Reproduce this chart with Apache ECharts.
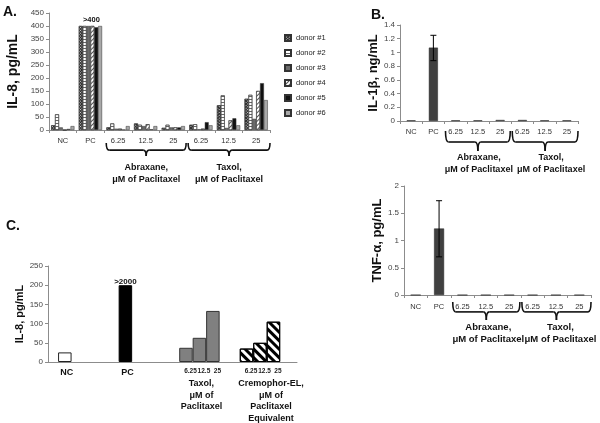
<!DOCTYPE html>
<html><head><meta charset="utf-8">
<script src="https://cdn.jsdelivr.net/npm/echarts@6/dist/echarts.min.js"></script>
<style>html,body{margin:0;padding:0;background:#fff}#c{width:600px;height:423px}</style>
</head><body><div id="c"></div><script>
// ---------- Panel A: IL-8 per donor ----------
const catsA = ['NC','PC','6.25','12.5','25','6.25','12.5','25'];
const donorNames = ['donor #1','donor #2','donor #3','donor #4','donor #5','donor #6'];
const donor1 = [18, 400, 10, 25, 8, 20, 95, 120];
const donor2 = [60, 400, 25, 20, 20, 22, 133, 135];
const donor3 = [10, 400, 5, 15, 10, 3, 8, 43];
const donor4 = [0, 400, 5, 22, 10, 5, 37, 150];
const donor5 = [4, 395, 2, 3, 10, 30, 45, 180];
const donor6 = [15, 400, 15, 15, 15, 18, 18, 115];
const groupsA = ['Abraxane,\nμM of Paclitaxel', 'Taxol,\nμM of Paclitaxel'];

// ---------- Panel B: IL-1β and TNF-α ----------
const catsB = ['NC','PC','6.25','12.5','25','6.25','12.5','25'];
const il1b     = [0.01, 1.07, 0.01, 0.01, 0.015, 0.015, 0.01, 0.01];
const il1bLow  = [null, 0.88, null, null, null, null, null, null];
const il1bHigh = [null, 1.25, null, null, null, null, null, null];
const tnfa     = [0, 1.22, 0, 0, 0, 0, 0, 0];
const tnfaLow  = [null, 0.70, null, null, null, null, null, null];
const tnfaHigh = [null, 1.73, null, null, null, null, null, null];

// ---------- Panel C: IL-8 ----------
const catsC = ['NC','PC','6.25','12.5','25','6.25','12.5','25'];
const il8C  = [25, 200, 37, 63, 133, 35, 50, 105];
const kindC = ['nc','pc','taxol','taxol','taxol','crem','crem','crem'];
const groupsC = ['Taxol,\nμM of\nPaclitaxel', 'Cremophor-EL,\nμM of\nPaclitaxel\nEquivalent'];
// layout of panel C on a fine slot grid (spacing only)
const slotC = [2, 11, 20, 22, 24, 29, 31, 33];
const nSlotC = 37;

const FONT = 'Liberation Sans, Arial, sans-serif';
const axisGray = '#8c8c8c';

const decals = [
  {symbol:'rect', symbolSize:1, dashArrayX:[1,1], dashArrayY:[1,1], color:'rgba(255,255,255,0.85)', rotation:Math.PI/4},
  {symbol:'rect', symbolSize:1, dashArrayX:[1,0], dashArrayY:[1,1.5], color:'#666'},
  null,
  {symbol:'rect', symbolSize:1, dashArrayX:[1,0], dashArrayY:[1,1.2], color:'#555', rotation:-Math.PI/4},
  null,
  null
];
const donorColors = ['#2a2a2a','#ffffff','#6b6b6b','#ffffff','#111111','#a8a8a8'];
const donorData = [donor1, donor2, donor3, donor4, donor5, donor6];

function errRender(params, api){
  const x = api.value(0);
  const lo = api.coord([x, api.value(1)]);
  const hi = api.coord([x, api.value(2)]);
  const w = 3;
  const st = {stroke:'#000', lineWidth:1};
  return {type:'group', children:[
    {type:'line', shape:{x1:lo[0],y1:lo[1],x2:hi[0],y2:hi[1]}, style:st},
    {type:'line', shape:{x1:lo[0]-w,y1:lo[1],x2:lo[0]+w,y2:lo[1]}, style:st},
    {type:'line', shape:{x1:hi[0]-w,y1:hi[1],x2:hi[0]+w,y2:hi[1]}, style:st}
  ]};
}
function errData(lo, hi){
  const out = [];
  lo.forEach((v,i)=>{ if(v!=null) out.push([i, v, hi[i]]); });
  return out;
}

function yAxisCommon(grid, min, max, interval, name, nameGap, nameSize, fmt){
  return {
    type:'value', gridIndex:grid, min, max, interval,
    name, nameLocation:'middle', nameGap,
    nameTextStyle:{fontFamily:FONT, fontWeight:'bold', fontSize:nameSize, color:'#111'},
    axisLine:{show:true, lineStyle:{color:axisGray}},
    axisTick:{show:true, length:3, lineStyle:{color:axisGray}},
    splitLine:{show:false},
    axisLabel:{fontFamily:FONT, fontSize:8, color:'#444', margin:5, formatter: fmt}
  };
}
function xAxisCat(grid, data, margin){
  return {
    type:'category', gridIndex:grid, data,
    axisLine:{lineStyle:{color:axisGray}},
    axisTick:{show:true, length:3, lineStyle:{color:axisGray}},
    axisLabel:{fontFamily:FONT, fontSize:7.5, color:'#333', margin, interval:0}
  };
}

// panel C full slot categories / data
const catsCFull = Array(nSlotC).fill('');
const il8CFull = Array(nSlotC).fill(null);
const styleC = {
  nc:{color:'#ffffff', borderColor:'#222', borderWidth:1},
  pc:{color:'#000000', borderColor:'#000', borderWidth:1},
  taxol:{color:'#808080', borderColor:'#333', borderWidth:1},
  crem:{color:'#ffffff', borderColor:'#000', borderWidth:1,
        decal:{symbol:'rect', symbolSize:1, dashArrayX:[1,0], dashArrayY:[2.5,2.5], color:'#000', rotation:Math.PI/4}}
};
slotC.forEach((s,i)=>{
  catsCFull[s] = catsC[i];
  il8CFull[s] = {value: il8C[i], itemStyle: styleC[kindC[i]]};
});

const chart = echarts.init(document.getElementById('c'), null, {renderer:'canvas'});

const series = [];
donorData.forEach((d,i)=>{
  const it = {color: donorColors[i], borderColor:'#333', borderWidth:0.5};
  if (decals[i]) it.decal = decals[i];
  series.push({
    name: donorNames[i], type:'bar', xAxisIndex:0, yAxisIndex:0,
    data: d, barGap:'0%', barCategoryGap:'16%', itemStyle: it
  });
});
series.push({type:'bar', xAxisIndex:1, yAxisIndex:1, data: il1b, barWidth:9,
  itemStyle:{color:'#404040', borderColor:'#222', borderWidth:0.5}});
series.push({type:'custom', xAxisIndex:1, yAxisIndex:1, renderItem: errRender,
  data: errData(il1bLow, il1bHigh), encode:{x:0, y:[1,2]}, z:5});
series.push({type:'bar', xAxisIndex:2, yAxisIndex:2, data: tnfa, barWidth:10,
  itemStyle:{color:'#404040', borderColor:'#222', borderWidth:0.5}});
series.push({type:'custom', xAxisIndex:2, yAxisIndex:2, renderItem: errRender,
  data: errData(tnfaLow, tnfaHigh), encode:{x:0, y:[1,2]}, z:5});
series.push({type:'bar', xAxisIndex:3, yAxisIndex:3, data: il8CFull, barWidth:13.5});

const option = {
  animation:false,
  backgroundColor:'#fff',
  textStyle:{fontFamily:FONT},
  grid:[
    {left:49, right:330, top:13, bottom:293},
    {left:400, right:22, top:25, bottom:302},
    {left:404, right:9, top:186, bottom:128},
    {left:48, right:303, top:266, bottom:61}
  ],
  legend:{
    data: donorNames, orient:'vertical', left:284, top:34, padding:0,
    itemWidth:6, itemHeight:6, itemGap:7, icon:'rect',
    textStyle:{fontFamily:FONT, fontSize:7.5, color:'#222'}
  },
  xAxis:[
    xAxisCat(0, catsA, 7),
    xAxisCat(1, catsB, 7),
    xAxisCat(2, catsB, 8),
    {type:'category', gridIndex:3, data: catsCFull,
     axisLine:{lineStyle:{color:axisGray}}, axisTick:{show:false},
     axisLabel:{interval:0, margin:6, fontFamily:FONT, color:'#111',
       formatter:(v)=> v===''? '' : ((v==='NC'||v==='PC') ? '{big|'+v+'}' : '{small|'+v+'}'),
       rich:{big:{fontSize:9, fontWeight:'bold', fontFamily:FONT, color:'#111', padding:[0,0,0,4]},
             small:{fontSize:6.5, fontWeight:'bold', fontFamily:FONT, color:'#222', padding:[0,0,0,9]}}}}
  ],
  yAxis:[
    yAxisCommon(0, 0, 450, 50, 'IL-8, pg/mL', 29, 14),
    yAxisCommon(1, 0, 1.4, 0.2, 'IL-1β, ng/mL', 18.5, 13, v=>String(Math.round(v*10)/10)),
    yAxisCommon(2, 0, 2, 0.5, 'TNF-α, pg/mL', 19.5, 13),
    yAxisCommon(3, 0, 250, 50, 'IL-8, pg/mL', 22.5, 11)
  ],
  series
};
chart.setOption(option);

// ---------- decorations computed from axes ----------
function band(xi, idx){
  const a = chart.convertToPixel({xAxisIndex:xi}, idx);
  const b = chart.convertToPixel({xAxisIndex:xi}, idx+1);
  return [a, b-a];
}
function brace(x1, x2, y0, h){
  const cx=(x1+x2)/2, y1=y0+h*0.55, y2=y0+h;
  const st = {stroke:'#111', lineWidth:1.6, fill:null};
  const bc = (a,b,c,d,e,f)=>({type:'bezierCurve', silent:true, shape:{x1:a,y1:b,cpx1:c,cpy1:d,x2:e,y2:f}, style:st});
  const ln = (a,b,c,d)=>({type:'line', silent:true, shape:{x1:a,y1:b,x2:c,y2:d}, style:st});
  return {type:'group', silent:true, children:[
    bc(x1,y0, x1,y1, x1+3,y1),
    ln(x1+3,y1, cx-3,y1),
    bc(cx-3,y1, cx,y1, cx,y2),
    bc(cx,y2, cx,y1, cx+3,y1),
    ln(cx+3,y1, x2-3,y1),
    bc(x2-3,y1, x2,y1, x2,y0)
  ]};
}
function label(text, x, y, size, align){
  return {type:'text', silent:true, style:{text, x, y, fill:'#111',
    font:`bold ${size}px ${FONT}`, textAlign:align||'center', textVerticalAlign:'top', lineHeight:size+2.5}};
}
const g = [];
// panel letters
g.push(label('A.', 3, 4, 14, 'left'));
g.push(label('B.', 371, 7, 14, 'left'));
g.push(label('C.', 6, 218, 14, 'left'));

// panel A braces
{
  const [c2,w] = band(0,2); const [c4] = band(0,4); const [c7] = band(0,7);
  const l1 = c2 - w/2 + 2, r1 = c4 + w/2 - 1, l2 = c4 + w/2 + 1, r2 = c7 + w/2;
  g.push(brace(l1, r1, 143, 13));
  g.push(brace(l2, r2, 143, 13));
  g.push(label(groupsA[0], (l1+r1)/2, 162, 9));
  g.push(label(groupsA[1], (l2+r2)/2, 162, 9));
  const p = chart.convertToPixel({xAxisIndex:0, yAxisIndex:0}, [1, 400]);
  g.push(label('>400', p[0]+1, p[1]-11, 7.5));
}
// panel B top braces
{
  const [c2,w] = band(1,2); const [c4] = band(1,4); const [c7] = band(1,7);
  const l1 = c2 - w/2 + 1, r1 = c4 + w/2 - 1, l2 = c4 + w/2 + 1, r2 = c7 + w/2;
  g.push(brace(l1, r1, 131, 20));
  g.push(brace(l2, r2, 131, 20));
  g.push(label(groupsA[0], (l1+r1)/2+1, 152, 9));
  g.push(label(groupsA[1], (l2+r2)/2+6, 152, 9));
}
// panel B bottom braces
{
  const [c2,w] = band(2,2); const [c4] = band(2,4); const [c7] = band(2,7);
  const l1 = c2 - w/2 + 2, r1 = c4 + w/2 - 1, l2 = c4 + w/2 + 1, r2 = c7 + w/2;
  g.push(brace(l1, r1, 302, 18));
  g.push(brace(l2, r2, 302, 18));
  g.push(label(groupsA[0], (l1+r1)/2+2, 321, 9.5));
  g.push(label(groupsA[1], (l2+r2)/2+4, 321, 9.5));
}
// panel C group labels and >2000
{
  const t = chart.convertToPixel({xAxisIndex:3}, slotC[3]);
  const cr = chart.convertToPixel({xAxisIndex:3}, slotC[6]);
  g.push(label(groupsC[0], t+2, 378, 9));
  g.push(label(groupsC[1], cr+11, 378, 9));
  const p = chart.convertToPixel({xAxisIndex:3, yAxisIndex:3}, [slotC[1], 200]);
  g.push(label('>2000', p[0], p[1]-9, 8));
}
chart.setOption({graphic: g});
</script></body></html>
